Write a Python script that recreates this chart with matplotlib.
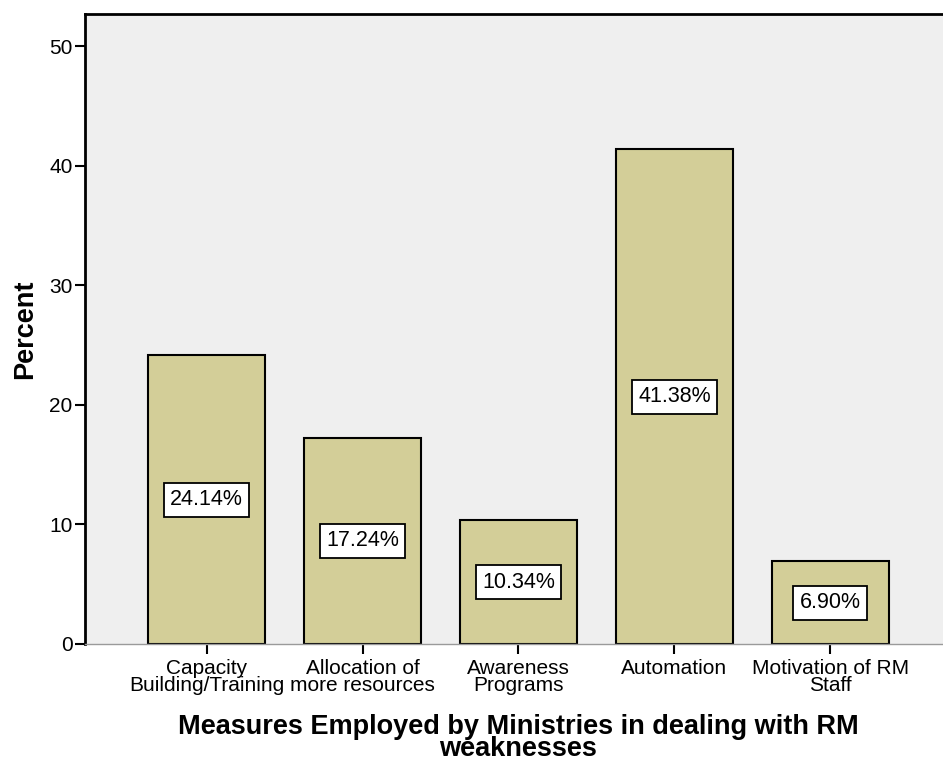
import matplotlib
matplotlib.use("Agg")
import matplotlib.pyplot as plt

plt.rcParams['font.family'] = ['Liberation Sans', 'DejaVu Sans']

measures = ["Capacity\nBuilding/Training", "Allocation of\nmore resources",
            "Awareness\nPrograms", "Automation", "Motivation of RM\nStaff"]
percent = [24.14, 17.24, 10.34, 41.38, 6.90]
yticks = [0, 10, 20, 30, 40, 50]

fig = plt.figure(figsize=(9.43, 7.63), dpi=100)
ax = fig.add_axes([0.0901, 0.156, 0.9194, 0.8257])
ax.set_facecolor("#efefef")

x = range(len(measures))
bars = ax.bar(x, percent, width=0.75, color="#d3ce98", edgecolor="black",
              linewidth=1.5, zorder=2)

# value boxes in the middle of each bar
for b, v in zip(bars, percent):
    ax.text(b.get_x() + b.get_width() / 2, v / 2, "%.2f%%" % v,
            ha="center", va="center", fontsize=15.5, zorder=3,
            bbox=dict(boxstyle="square,pad=0.3", facecolor="white",
                      edgecolor="black", linewidth=1.3))

ax.set_xlim(-0.78, 4.78)
ax.set_ylim(0, 52.7)
ax.set_yticks(yticks)
ax.set_xticks(list(x))
ax.set_xticklabels(measures, fontsize=15, linespacing=0.82)
ax.tick_params(axis="y", labelsize=15, length=7, width=1.5, pad=2)
ax.tick_params(axis="x", length=7, width=1.5, pad=4)

for side in ["left", "top"]:
    ax.spines[side].set_linewidth(2)
    ax.spines[side].set_color("black")
ax.spines["bottom"].set_color("#9a9a9a")
ax.spines["bottom"].set_linewidth(1)
ax.spines["right"].set_visible(False)

ax.set_ylabel("Percent", fontsize=19.5, fontweight="bold", labelpad=8)
ax.set_xlabel("Measures Employed by Ministries in dealing with RM\nweaknesses",
              fontsize=19.5, fontweight="bold", labelpad=14, linespacing=0.8)

fig.savefig("out.png", dpi=100)
